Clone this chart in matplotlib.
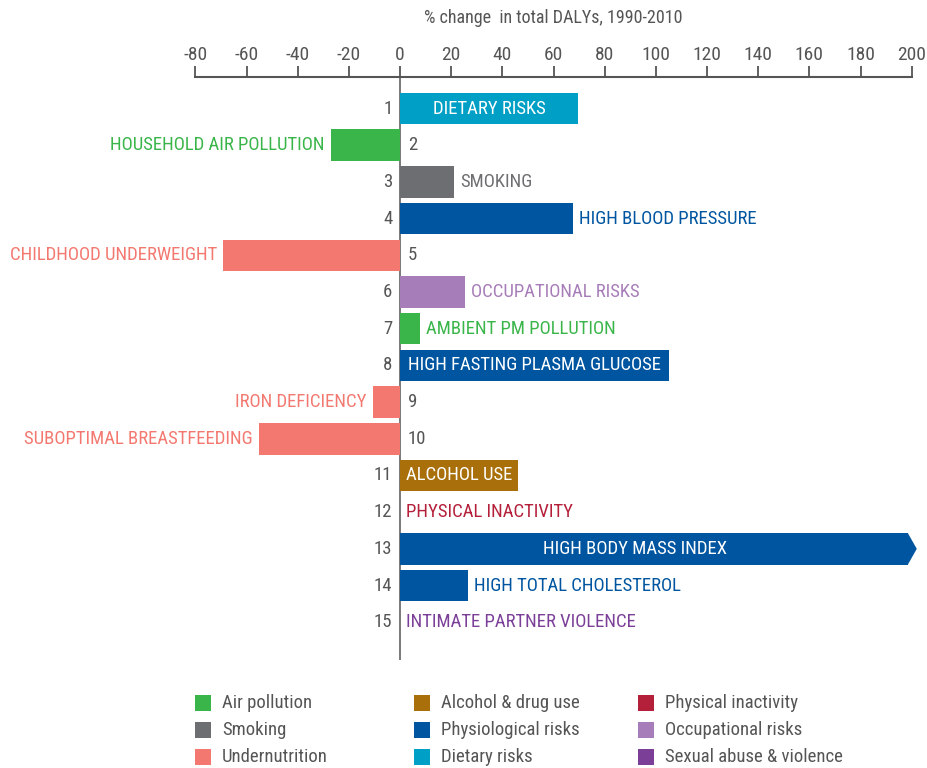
import matplotlib.pyplot as plt
from matplotlib.patches import Polygon, Rectangle

plt.rcParams["font.family"] = ["Roboto Condensed", "Liberation Sans", "DejaVu Sans"]
plt.rcParams["axes.unicode_minus"] = False

# data
ranks = list(range(1, 16))
categories = [
    "DIETARY RISKS", "HOUSEHOLD AIR POLLUTION", "SMOKING", "HIGH BLOOD PRESSURE",
    "CHILDHOOD UNDERWEIGHT", "OCCUPATIONAL RISKS", "AMBIENT PM POLLUTION",
    "HIGH FASTING PLASMA GLUCOSE", "IRON DEFICIENCY", "SUBOPTIMAL BREASTFEEDING",
    "ALCOHOL USE", "PHYSICAL INACTIVITY", "HIGH BODY MASS INDEX",
    "HIGH TOTAL CHOLESTEROL", "INTIMATE PARTNER VIOLENCE",
]
pct_change = [69.5, -27, 21, 67.5, -69, 25.4, 7.8, 105, -10.6, -55, 46, 0, 202, 26.6, 0]
groups = [
    "Dietary risks", "Air pollution", "Smoking", "Physiological risks",
    "Undernutrition", "Occupational risks", "Air pollution", "Physiological risks",
    "Undernutrition", "Undernutrition", "Alcohol & drug use", "Physical inactivity",
    "Physiological risks", "Physiological risks", "Sexual abuse & violence",
]
label_inside = [True, False, False, False, False, False, False, True,
                False, False, True, False, True, False, False]

group_colors = {
    "Air pollution": "#3AB54A",
    "Smoking": "#6D6E71",
    "Undernutrition": "#F37970",
    "Alcohol & drug use": "#A86F0A",
    "Physiological risks": "#0055A0",
    "Dietary risks": "#00A0C6",
    "Physical inactivity": "#B41F3A",
    "Occupational risks": "#A67DB8",
    "Sexual abuse & violence": "#7B3F98",
}
legend_order = [
    "Air pollution", "Smoking", "Undernutrition",
    "Alcohol & drug use", "Physiological risks", "Dietary risks",
    "Physical inactivity", "Occupational risks", "Sexual abuse & violence",
]

GREY = "#555555"
XMAX = 200
TIP = 3.5
BAR_H = 0.86
FS = 13.5

fig = plt.figure(figsize=(9.28, 7.68), dpi=100)
ax = fig.add_axes([0.2105, 0.1406, 0.9824 - 0.2105, 0.8993 - 0.1406])

for r, val, grp in zip(ranks, pct_change, groups):
    col = group_colors[grp]
    if val > XMAX:
        # bar runs off the scale: draw it with an arrow head
        ax.barh(r, val - TIP, height=BAR_H, color=col, lw=0)
        ax.add_patch(Polygon([(val - TIP, r - BAR_H / 2), (val, r), (val - TIP, r + BAR_H / 2)],
                             closed=True, color=col, lw=0, clip_on=False))
    elif val != 0:
        ax.barh(r, val, height=BAR_H, color=col, lw=0)

for r, val, grp, name, inside in zip(ranks, pct_change, groups, categories, label_inside):
    col = group_colors[grp]
    if inside:
        xc = XMAX / 2 - 8 if val > XMAX else val / 2
        ax.text(xc, r, name, color="white", fontsize=FS, ha="center", va="center")
    elif val >= 0:
        ax.annotate(name, (val, r), xytext=(4.5, 0), textcoords="offset points",
                    color=col, fontsize=FS, ha="left", va="center")
    else:
        ax.annotate(name, (val, r), xytext=(-4.5, 0), textcoords="offset points",
                    color=col, fontsize=FS, ha="right", va="center")
    # rank number on the other side of the zero line
    if val >= 0:
        ax.annotate(str(r), (0, r), xytext=(-5.5, 0), textcoords="offset points",
                    color=GREY, fontsize=13.5, ha="right", va="center")
    else:
        ax.annotate(str(r), (0, r), xytext=(5.5, 0), textcoords="offset points",
                    color=GREY, fontsize=13.5, ha="left", va="center")

ax.axvline(0, color=GREY, lw=1.1, zorder=0)

ax.set_xlim(-80, XMAX)
ax.set_ylim(16.03, 0.15)
ax.set_xticks(range(-80, 201, 20))
ax.xaxis.tick_top()
ax.tick_params(axis="x", direction="out", length=8, width=1.3, color=GREY,
               labelcolor=GREY, labelsize=14, pad=1.5)
ax.set_yticks([])
for side in ["left", "right", "bottom"]:
    ax.spines[side].set_visible(False)
ax.spines["top"].set_color(GREY)
ax.spines["top"].set_linewidth(1.5)
ax.patch.set_visible(False)

fig.text(0.5964, 1 - 18 / 768, "% change  in total DALYs, 1990-2010",
         color=GREY, fontsize=13, ha="center", va="center")

# legend, three columns of three
col_x = [195, 414, 638]
row_y = [703, 730, 757]
sq = 16
for i, grp in enumerate(legend_order):
    cx = col_x[i // 3]
    cy = row_y[i % 3]
    fig.add_artist(Rectangle((cx / 928, 1 - (cy + sq / 2) / 768), sq / 928, sq / 768,
                             transform=fig.transFigure, color=group_colors[grp], lw=0))
    fig.text((cx + 27) / 928, 1 - cy / 768, grp, color=GREY, fontsize=13.5,
             ha="left", va="center")

fig.savefig("out.png", dpi=100)
